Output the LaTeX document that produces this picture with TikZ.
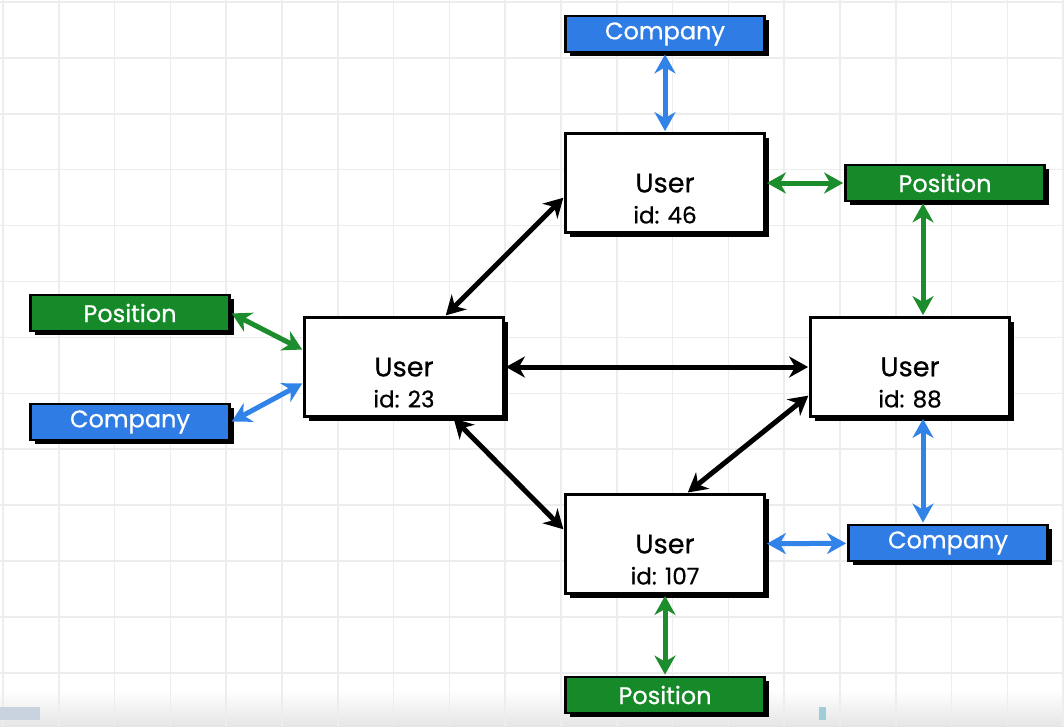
\documentclass[tikz,border=0pt]{standalone}
\usepackage{fontspec}
\setmainfont{Poppins}[FakeBold=0.6]
\usepackage{tikz}
\usetikzlibrary{arrows.meta,positioning,shadows}
\usepackage{xcolor}
\definecolor{gridln}{HTML}{EDEDED}
\definecolor{compfill}{HTML}{2F7DE4}
\definecolor{posfill}{HTML}{168A29}
\definecolor{arrblue}{HTML}{3283E8}
\definecolor{arrgreen}{HTML}{1B8D2D}
\definecolor{barlt}{HTML}{C9D3E0}
\definecolor{barteal}{HTML}{A0CCD8}
\newcommand{\userid}[1]{\rule{0pt}{50pt}User\\{\fontsize{23pt}{31pt}\selectfont id: #1}}
\tikzset{
  box/.style={draw=black, line width=2.8pt, align=center, inner sep=4pt,
              minimum width=199pt,
              drop shadow={shadow xshift=4pt, shadow yshift=-4pt, fill=black, opacity=1}},
  userbox/.style={box, fill=white, minimum height=99pt,
                  font=\fontsize{27pt}{31pt}\selectfont},
  compbox/.style={box, fill=compfill, text=white, minimum height=36pt,
                  font=\fontsize{24pt}{30pt}\selectfont},
  posbox/.style={box, fill=posfill, text=white, minimum height=36pt,
                 font=\fontsize{24pt}{30pt}\selectfont},
  ar/.style={{Stealth[length=19pt,width=21pt,inset=6pt]}-{Stealth[length=19pt,width=21pt,inset=6pt]},
             line width=5pt, shorten <=1pt, shorten >=1pt},
  arblk/.style={ar, draw=black},
  arblue/.style={ar, draw=arrblue},
  argreen/.style={ar, draw=arrgreen},
  gridline/.style={draw=gridln, line width=1.5pt}
}

\begin{document}
\begin{tikzpicture}[x=1pt,y=-1pt]
  \useasboundingbox (0,0) rectangle (1064,726);
  \fill[white] (0,0) rectangle (1064,726);
  \shade[top color=white, bottom color=black!10] (0,690) rectangle (1064,726);
  \foreach \i in {0,...,19}
    \draw[gridline] ({3+55.8*\i},0) -- ({3+55.8*\i},726);
  \foreach \j in {0,...,13}
    \draw[gridline] (0,{2+55.9*\j}) -- (1064,{2+55.9*\j});
  \fill[barlt] (0,707) rectangle (40,720);
  \fill[barteal] (819,707) rectangle (826,720);

  \node[compbox] (ctop) at (665,34) {Company};
  \node[userbox] (u46) at (665,183) {\userid{46}};
  \node[posbox] (pright) at (945,183) {Position};
  \node[posbox] (pleft) at (130,313) {Position};
  \node[compbox] (cleft) at (130,422) {Company};
  \node[userbox] (u23) at (404,367) {\userid{23}};
  \node[userbox] (u88) at (910,367) {\userid{88}};
  \node[userbox] (u107) at (665,544) {\userid{107}};
  \node[compbox] (cright) at (948,543) {Company};
  \node[posbox] (pbot) at (665,695) {Position};

  \draw[arblue] (ctop) -- (u46);
  \draw[argreen] (u46) -- (pright);
  \draw[argreen] ([xshift=-22pt]pright.south) -- ([xshift=13pt]u88.north);
  \draw[arblue] ([xshift=13pt]u88.south) -- ([xshift=-25pt]cright.north);
  \draw[arblue] (u107) -- (cright);
  \draw[argreen] (u107) -- (pbot);
  \draw[arblk] ([xshift=41pt]u23.north) -- ([yshift=-14pt]u46.west);
  \draw[arblk] (u23) -- (u88);
  \draw[arblk] ([xshift=49pt]u23.south) -- ([yshift=14pt]u107.west);
  \draw[arblk] ([yshift=-28pt]u88.west) -- ([xshift=22pt]u107.north);
  \draw[argreen] (pleft.east) -- ([yshift=17pt]u23.west);
  \draw[arblue] (cleft.east) -- ([yshift=-16pt]u23.west);
\end{tikzpicture}
\end{document}
